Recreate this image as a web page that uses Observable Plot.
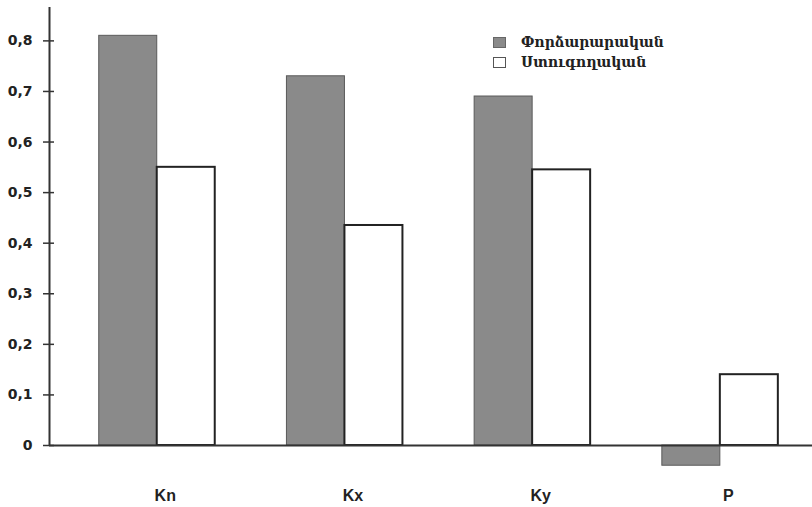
<!DOCTYPE html>
<html>
<head>
<meta charset="utf-8">
<script src="https://cdn.jsdelivr.net/npm/d3@7"></script>
<script src="https://cdn.jsdelivr.net/npm/@observablehq/plot@0.6"></script>
<style>
  html, body { margin: 0; padding: 0; background: #fff; }
  #wrap { position: relative; width: 812px; height: 507px; }
  #legend { position: absolute; left: 493px; top: 32px; font-family: "DejaVu Serif", serif; font-weight: bold; font-size: 14px; color: #222; }
  .item { display: flex; align-items: center; height: 20px; }
  .sw { width: 13px; height: 11px; margin-right: 15px; box-sizing: border-box; }
</style>
</head>
<body>
<div id="wrap"></div>
<script>
const categories = ["Kn", "Kx", "Ky", "P"];
const seriesNames = ["Փորձարարական", "Ստուգողական"];
const experimental = [0.81, 0.73, 0.69, -0.04];
const control = [0.55, 0.435, 0.545, 0.14];
const yTicks = [0, 0.1, 0.2, 0.3, 0.4, 0.5, 0.6, 0.7, 0.8];

const xDomain = [-0.574, 3.491];
const barW = 0.309;
const greyFill = "#8a8a8a";

const rows = categories.map((c, i) => ({cat: c, i, exp: experimental[i], ctl: control[i]}));

const chart = Plot.plot({
  width: 812,
  height: 507,
  marginLeft: 49,
  marginRight: 0,
  marginTop: 7,
  marginBottom: 62,
  style: {fontFamily: "Arial, 'Liberation Sans', sans-serif", background: "#fff", color: "#222"},
  x: {type: "linear", domain: xDomain},
  y: {domain: [0, 0.866]},
  marks: [
    Plot.rectY(rows, {x1: d => d.i - barW, x2: d => d.i, y1: 0, y2: d => d.exp, fill: greyFill, stroke: "#5a5a5a", strokeWidth: 1}),
    Plot.rectY(rows, {x1: d => d.i, x2: d => d.i + barW, y1: 0, y2: d => d.ctl, fill: "#fff", stroke: "#222", strokeWidth: 2}),
    Plot.ruleY([0], {stroke: "#333", strokeWidth: 2}),
    Plot.ruleX([xDomain[0]], {stroke: "#333", strokeWidth: 2}),
    Plot.axisY({
      ticks: yTicks,
      tickSize: 11,
      dx: 5,
      tickPadding: 11,
      tickFormat: d => d === 0 ? "0" : d.toFixed(1).replace(".", ","),
      fontSize: 14,
      fontFamily: "'DejaVu Sans', sans-serif",
      fontWeight: "bold",
      stroke: "#333",
      strokeWidth: 1.5,
      fill: "#222",
      label: null
    }),
    Plot.axisX({
      ticks: categories.map((c, i) => i),
      tickFormat: i => categories[i],
      tickSize: 0,
      tickPadding: 44,
      dx: 8,
      fontSize: 16,
      fontWeight: "bold",
      fill: "#222",
      label: null
    })
  ]
});

const wrap = document.getElementById("wrap");
wrap.appendChild(chart);

const legend = document.createElement("div");
legend.id = "legend";
const swatches = [{fill: greyFill, border: "1px solid #666"}, {fill: "#fff", border: "1px solid #555"}];
seriesNames.forEach((name, k) => {
  const item = document.createElement("div");
  item.className = "item";
  const sw = document.createElement("div");
  sw.className = "sw";
  sw.style.background = swatches[k].fill;
  sw.style.border = swatches[k].border;
  const t = document.createElement("span");
  t.textContent = name;
  item.appendChild(sw);
  item.appendChild(t);
  legend.appendChild(item);
});
wrap.appendChild(legend);
</script>
</body>
</html>
